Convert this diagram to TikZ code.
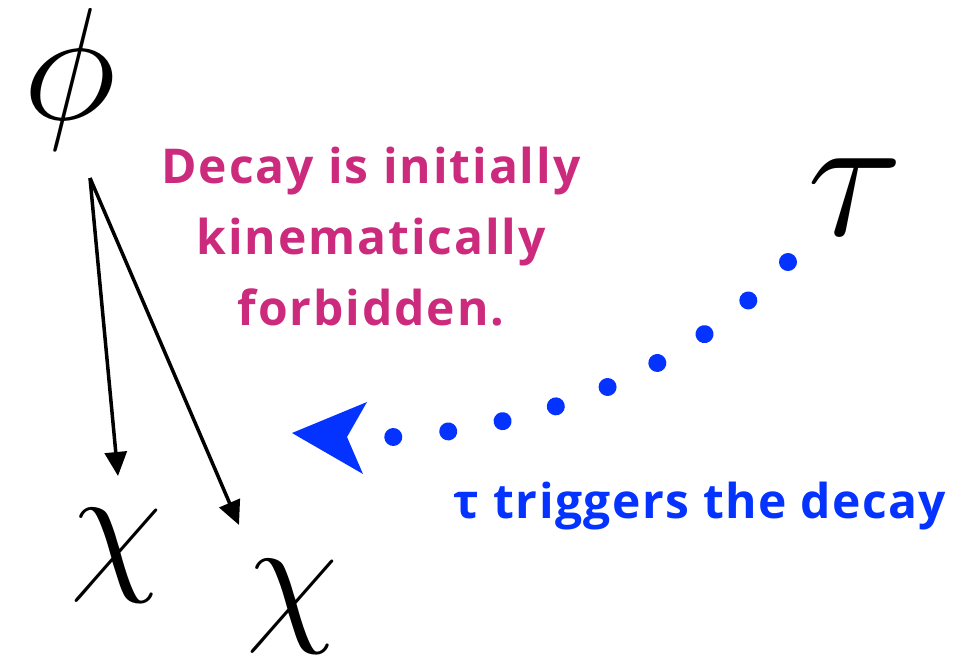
\RequirePackage{fix-cm}
\documentclass[tikz,border=0pt]{standalone}
\usepackage{fontspec}
\usetikzlibrary{arrows.meta,decorations.markings}
\newfontfamily\labfont{Open Sans}
\newfontfamily\pinkfont{Open Sans}[LetterSpace=4]
\newfontfamily\bluefont{Open Sans}[LetterSpace=3]
\definecolor{pinkish}{HTML}{CC2A7C}
\definecolor{applblue}{HTML}{0433FF}
\tikzset{
  mathsym/.style={inner sep=0pt, font={\fontsize{150}{150}\selectfont}},
  decayarrow/.style={line width=3.5pt, -{Triangle[length=24pt,width=22pt]}},
  pinktext/.style={inner sep=0pt, text=pinkish, align=center, font={\pinkfont\bfseries\fontsize{48}{71}\selectfont}},
  bluetext/.style={inner sep=0pt, text=applblue, font={\bluefont\bfseries\fontsize{48}{56}\selectfont}},
  dotted path/.style={postaction={decorate}, decoration={markings,
    mark=between positions 0 and 1 step 0.1249 with {\fill[applblue] (0,0) circle (9pt);}}},
  bluehead/.style={fill=applblue}
}
\begin{document}
\begin{tikzpicture}[x=1pt,y=-1pt]
\useasboundingbox (0,0) rectangle (964,659);
\node[mathsym, font={\fontsize{160}{160}\selectfont}] (phi) at (70,79) {$\phi$};
\node[mathsym] (chi1) at (117,556) {$\chi$};
\node[mathsym] (chi2) at (293,607) {$\chi$};
\node[mathsym, font={\fontsize{178}{178}\selectfont}] (tau) at (855,197) {$\tau$};
\coordinate (src) at (90,178);
\coordinate (e1) at (118,476);
\coordinate (e2) at (239,525);
\draw[decayarrow] (src) -- (e1);
\draw[decayarrow] (src) -- (e2);
\coordinate (dstart) at (788,262);
\coordinate (dend) at (393,437);
\path[dotted path] (dstart) .. controls (680,380) and (520,430) .. (dend);
\coordinate (tip) at (292,433);
\coordinate (hup) at (367,402);
\coordinate (notch) at (347,437);
\coordinate (hlo) at (363,474);
\fill[bluehead] (tip) -- (hup) -- (notch) -- (hlo) -- cycle;
\node[pinktext, anchor=north] (forb) at (371,147) {Decay is initially\\kinematically\\forbidden.};
\node[bluetext, anchor=base] (trig) at (700,518) {τ triggers the decay};
\end{tikzpicture}
\end{document}
